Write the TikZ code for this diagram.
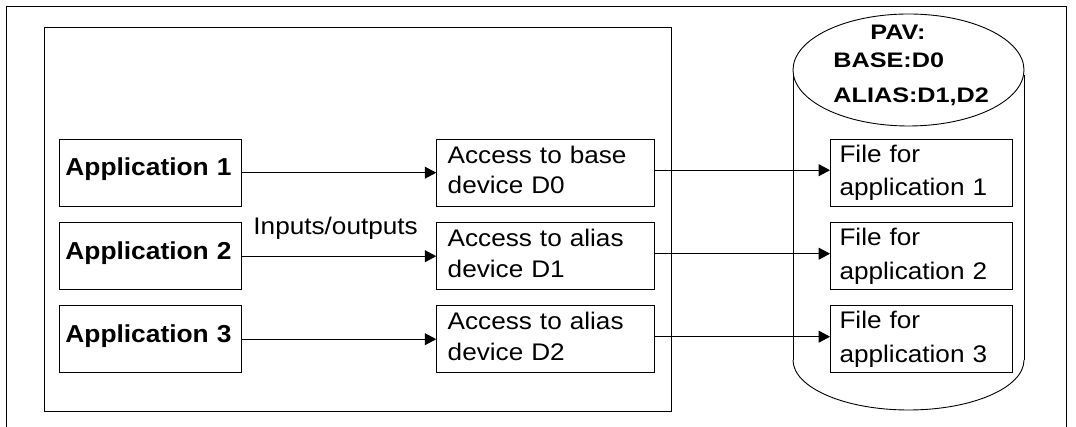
\documentclass[tikz,border=0pt]{standalone}
\usepackage{fontspec}
\setmainfont{Liberation Sans}
\newfontfamily\regf[FakeStretch=1.09]{Liberation Sans}
\newfontfamily\appf[FakeStretch=1.075]{Liberation Sans}
\newfontfamily\pavf[FakeStretch=1.2]{Liberation Sans}
\usetikzlibrary{arrows.meta}
\begin{document}
\begin{tikzpicture}[x=1pt,y=1pt,
  line width=0.9pt,
  appbox/.style={draw, minimum width=182.2pt, minimum height=67pt, inner xsep=6pt, inner ysep=0pt,
    text width=170pt, align=left, font=\appf\bfseries\fontsize{24.5}{29}\selectfont,
    text height=18pt, text depth=11.4pt},
  accbox/.style={draw, minimum width=217.3pt, minimum height=67pt, inner xsep=11pt, inner ysep=0pt,
    text width=195.3pt, align=left, font=\regf\fontsize{24}{30.7}\selectfont, text depth=36.2pt},
  filebox/.style={draw, minimum width=182.3pt, minimum height=67pt, inner xsep=9pt, inner ysep=0pt,
    text width=164.3pt, align=left, font=\regf\fontsize{24}{33.4}\selectfont},
  pavtext/.style={anchor=base west, inner sep=0pt, font=\pavf\bfseries\fontsize{21}{25}\selectfont},
  arr/.style={-{Triangle[length=11.5pt,width=12pt]}}
]
\useasboundingbox (0,0) rectangle (1076,427);
% outer frame (open at bottom)
\draw[line width=1pt] (6,0) -- (6,420) -- (1066.5,420) -- (1066.5,0);
% inner frame
\draw (44,16) rectangle (671,400);
% cylinder
\draw (908.5,357) ellipse [x radius=115.5, y radius=56];
\draw (793,352) -- (793,67);
\draw (1024,352) -- (1024,67);
\draw (793,67) arc[start angle=180, end angle=360, x radius=115.5, y radius=50];
\node[pavtext] (pav) at (870,387) {PAV:};
\node[pavtext] (base) at (833,359.7) {BASE:D0};
\node[pavtext] (alias) at (833,324.3) {ALIAS:D1,D2};
% applications
\node[appbox] (app1) at (150.4,254.3) {Application 1};
\node[appbox] (app2) at (150.4,170.8) {Application 2};
\node[appbox] (app3) at (150.4,87.8) {Application 3};
% access boxes
\node[accbox] (acc1) at (545.35,254.3) {Access to base\\device D0};
\node[accbox] (acc2) at (545.35,170.8) {Access to alias\\device D1};
\node[accbox] (acc3) at (545.35,87.8) {Access to alias\\device D2};
% file boxes
\node[filebox] (file1) at (921.65,254.3) {File for\\application 1};
\node[filebox] (file2) at (921.65,170.8) {File for\\application 2};
\node[filebox] (file3) at (921.65,87.8) {File for\\application 3};
% label
\node[anchor=base west, inner sep=0pt, font=\regf\fontsize{24}{28}\selectfont] (io) at (253,192.7) {Inputs/outputs};
% connectors
\draw[arr] (app1.east) -- (acc1.west);
\draw[arr] (app2.east) -- (acc2.west);
\draw[arr] (app3.east) -- (acc3.west);
\draw[arr] ([yshift=2.5pt]acc1.east) -- ([yshift=2.5pt]file1.west);
\draw[arr] ([yshift=2.5pt]acc2.east) -- ([yshift=2.5pt]file2.west);
\draw[arr] ([yshift=2.5pt]acc3.east) -- ([yshift=2.5pt]file3.west);
\end{tikzpicture}
\end{document}
